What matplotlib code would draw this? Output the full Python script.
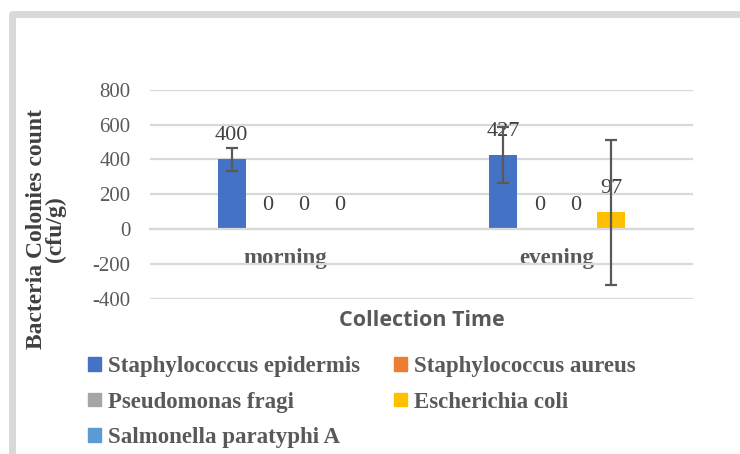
import matplotlib.pyplot as plt
import numpy as np
from matplotlib.patches import Patch
from matplotlib.lines import Line2D

categories = ["morning", "evening"]
species = ["Staphylococcus epidermis", "Staphylococcus aureus", "Pseudomonas fragi",
           "Escherichia coli", "Salmonella paratyphi A"]
colors = ["#4472C4", "#ED7D31", "#A5A5A5", "#FFC000", "#5B9BD5"]

epidermis = [400, 427]
aureus = [0, 0]
fragi = [0, 0]
coli = [0, 97]
paratyphi = [np.nan, np.nan]

epidermis_err = [68, 161]
aureus_err = [0, 0]
fragi_err = [0, 0]
coli_err = [0, 418]
paratyphi_err = [0, 0]

values = [epidermis, aureus, fragi, coli, paratyphi]
errors = [epidermis_err, aureus_err, fragi_err, coli_err, paratyphi_err]

SERIF = "Liberation Serif"
TXT = "#595959"

fig = plt.figure(figsize=(7.4, 4.54), dpi=100)
ax = fig.add_axes([150 / 740, 1 - 298.5 / 454, 543 / 740, 208.5 / 454])

x = np.arange(len(categories))
step = 0.1326
width = 0.103
for i, (vals, errs) in enumerate(zip(values, errors)):
        pos = x + (i - 1.5) * step
        ax.bar(pos, vals, width, color=colors[i], zorder=2)
        for p, v, e in zip(pos, vals, errs):
                if np.isnan(v):
                        continue
                ax.annotate(f"{v:g}", (p, v), xytext=(0, 17), textcoords="offset points",
                            ha="center", va="center", fontsize=16, family=SERIF, color="#404040")
                if e > 0:
                        ax.errorbar(p, v, yerr=e, color=TXT, lw=1.6, capsize=4.5, capthick=1.6, zorder=3)

ax.set_xlim(-0.5, 1.5)
ax.set_ylim(-400, 800)
ax.set_yticks(np.arange(-400, 801, 200))
ax.grid(axis="y", color="#d9d9d9", lw=1.6, zorder=0)
ax.set_axisbelow(True)
for s in ["top", "right", "left"]:
        ax.spines[s].set_visible(False)
ax.spines["bottom"].set_position(("data", 0))
ax.spines["bottom"].set_color("#d9d9d9")
ax.spines["bottom"].set_linewidth(1.6)
ax.tick_params(axis="both", length=0)
ax.tick_params(axis="y", pad=14, labelsize=15, labelcolor=TXT)
ax.set_yticklabels([str(t) for t in np.arange(-400, 801, 200)], family=SERIF)
ax.set_xticks(x)
ax.set_xticklabels(categories, family=SERIF, fontweight="bold", fontsize=16.5, color=TXT)
ax.tick_params(axis="x", pad=14)

fig.text(421.5 / 740, 1 - 320 / 454, "Collection Time", ha="center", va="center",
         family="Open Sans", fontweight="bold", fontsize=15.5, color=TXT)
fig.text(46 / 740, 1 - 229 / 454, "Bacteria Colonies count\n(cfu/g)", rotation=90,
         ha="center", va="center", linespacing=0.85, family=SERIF, fontweight="bold",
         fontsize=17, color="#404040")

order = [0, 2, 4, 1, 3]
handles = [Patch(color=colors[k], label=species[k]) for k in order]
leg = fig.legend(handles=handles, ncol=2, loc="upper left", bbox_to_anchor=(77 / 740, 1 - 345 / 454),
                 frameon=False, handlelength=0.55, handleheight=0.55, handletextpad=0.3,
                 columnspacing=1.5, labelspacing=0.62, borderpad=0,
                 prop={"family": SERIF, "weight": "bold", "size": 16.5})
for t in leg.get_texts():
        t.set_color(TXT)

# chart frame (top and left edges only visible)
fig.add_artist(Line2D([11.5 / 740, 11.5 / 740, 1.05], [-0.05, 1 - 13.5 / 454, 1 - 13.5 / 454],
                      transform=fig.transFigure, lw=5, color="#d9d9d9", solid_joinstyle="round"))

fig.savefig("out.png", dpi=100)
